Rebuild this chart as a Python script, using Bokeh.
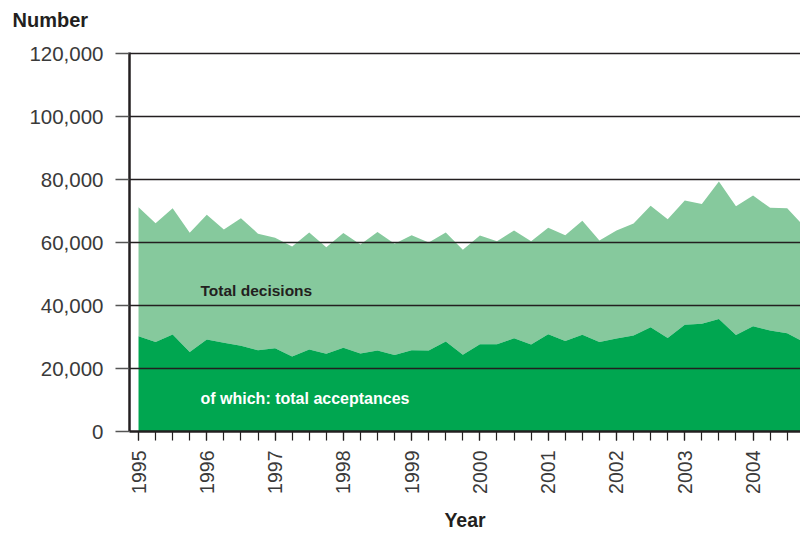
import math
from bokeh.plotting import figure
from bokeh.models import (Range1d, FixedTicker, SingleIntervalTicker, NumeralTickFormatter,
                          Label, ColumnDataSource)
from bokeh.embed import file_html
from bokeh.resources import INLINE

# ---- data (quarterly, 1995 Q1 .. 2004 Q4) ----
years = [1995, 1996, 1997, 1998, 1999, 2000, 2001, 2002, 2003, 2004]
quarters = [1, 2, 3, 4]
total_decisions = [
    71200, 66100, 70900, 63100,
    68800, 64100, 67700, 62800,
    61500, 58700, 63200, 58500,
    63000, 59400, 63300, 59600,
    62300, 60000, 63200, 57700,
    62200, 60400, 63800, 60400,
    64700, 62300, 66900, 60600,
    63800, 66000, 71700, 67400,
    73300, 72200, 79400, 71500,
    74900, 71000, 70900, 65000,
]
total_acceptances = [
    30200, 28400, 30800, 25200,
    29200, 28200, 27200, 25800,
    26400, 23800, 26000, 24700,
    26600, 24800, 25700, 24300,
    25800, 25700, 28600, 24400,
    27700, 27700, 29600, 27600,
    30900, 28700, 30700, 28400,
    29500, 30500, 33100, 29700,
    33900, 34200, 35700, 30600,
    33400, 32100, 31200, 28300,
]
y_ticks = [0, 20000, 40000, 60000, 80000, 100000, 120000]

x = [y + (q - 1) / 4 for y in years for q in quarters]
zeros = [0] * len(x)
src = ColumnDataSource(dict(x=x, dec=total_decisions, acc=total_acceptances, zero=zeros))

LIGHT = "#86C99D"
DARK = "#00A650"
INK = "#231F20"
FONT = "Liberation Sans"

X0, X1 = 1994.868, 2004.695
p = figure(width=800, height=533, output_backend="svg", toolbar_location=None,
           min_border_left=129, min_border_right=0, min_border_top=52, min_border_bottom=102,
           x_range=Range1d(X0, X1), y_range=Range1d(0, 120320))
p.outline_line_color = None
p.background_fill_color = "white"
p.border_fill_color = "white"

p.varea(x="x", y1="acc", y2="dec", source=src, fill_color=LIGHT)
p.varea(x="x", y1="zero", y2="acc", source=src, fill_color=DARK)

# grid
p.xgrid.visible = False
p.ygrid.ticker = FixedTicker(ticks=y_ticks)
p.ygrid.grid_line_color = INK
p.ygrid.grid_line_width = 1.3
p.ygrid.level = "overlay"

# y axis
ya = p.yaxis[0]
ya.ticker = FixedTicker(ticks=y_ticks)
ya.formatter = NumeralTickFormatter(format="0,0")
ya.major_tick_out = 14
ya.major_tick_in = 0
ya.minor_tick_out = 0
ya.minor_tick_in = 0
ya.major_tick_line_color = "#555555"
ya.major_tick_line_width = 1.3
ya.axis_line_color = INK
ya.axis_line_width = 2.5
ya.major_label_standoff = 12
ya.major_label_text_font = FONT
ya.major_label_text_font_size = "20.5px"
ya.major_label_text_color = "#3a3a3a"

# x axis
xa = p.xaxis[0]
xa.ticker = SingleIntervalTicker(interval=1, num_minor_ticks=4)
xa.major_tick_out = 9
xa.major_tick_in = 0
xa.minor_tick_out = 9
xa.minor_tick_in = 0
xa.major_tick_line_color = INK
xa.minor_tick_line_color = INK
xa.major_tick_line_width = 1.2
xa.minor_tick_line_width = 1.2
xa.axis_line_color = INK
xa.axis_line_width = 2.5
xa.major_label_orientation = math.pi / 2
xa.major_label_standoff = 10
xa.major_label_text_font = FONT
xa.major_label_text_font_size = "19.5px"
xa.major_label_text_color = "#3a3a3a"
xa.axis_label = "Year"
xa.axis_label_text_font = FONT
xa.axis_label_text_font_size = "19.5px"
xa.axis_label_text_font_style = "bold"
xa.axis_label_text_color = INK
xa.axis_label_standoff = 12

# heading "Number" (trailing empty line lifts it towards the top edge)
p.title.text = "Number\n"
p.title.align = "left"
p.title.offset = -117
p.title.standoff = 0
p.title.text_font = FONT
p.title.text_font_size = "20px"
p.title.text_font_style = "bold"
p.title.text_color = INK

# in-chart labels
p.add_layout(Label(x=1995.908, y=44760, text="Total decisions", text_font=FONT,
                   text_font_size="15.5px", text_font_style="bold", text_color=INK,
                   text_baseline="middle", text_align="left"))
p.add_layout(Label(x=1995.908, y=10480, text="of which: total acceptances", text_font=FONT,
                   text_font_size="16px", text_font_style="bold", text_color="white",
                   text_baseline="middle", text_align="left"))

open("out.html", "w").write(file_html(p, INLINE))
